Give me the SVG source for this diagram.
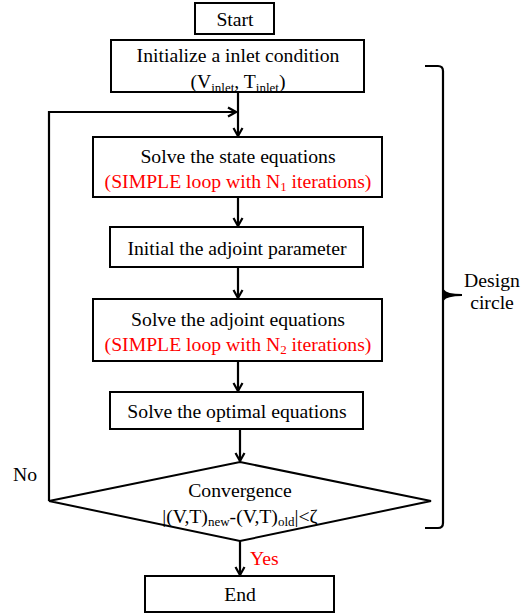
<svg xmlns="http://www.w3.org/2000/svg" width="524" height="615" viewBox="0 0 524 615">
<defs>
<style>
.box{fill:#fff;stroke:#000;stroke-width:2}
text{font-family:'Liberation Serif','Times New Roman','DejaVu Serif',serif;font-size:19.7px;fill:#000;text-anchor:middle}
.r{fill:#ff0000}
.s{font-size:13px}
.ln{fill:none;stroke:#000;stroke-width:2.2}
</style>
<marker id="ah" markerUnits="userSpaceOnUse" markerWidth="12" markerHeight="12" viewBox="0 0 12 12" refX="10" refY="6" orient="auto">
<path d="M2,1.5 L10,6 L2,10.5" fill="none" stroke="#000" stroke-width="2.2"/>
</marker>
</defs>
<rect width="524" height="615" fill="#fff"/>
<g id="connectors">
<line class="ln" x1="238" y1="92" x2="238" y2="136" marker-end="url(#ah)"/>
<polyline class="ln" points="49,501 49,112 236,112" marker-end="url(#ah)"/>
<line class="ln" x1="238" y1="197" x2="238" y2="226" marker-end="url(#ah)"/>
<line class="ln" x1="238" y1="267" x2="238" y2="298" marker-end="url(#ah)"/>
<line class="ln" x1="238" y1="361" x2="238" y2="391" marker-end="url(#ah)"/>
<line class="ln" x1="240" y1="429" x2="240" y2="461" marker-end="url(#ah)"/>
<line class="ln" x1="240" y1="541" x2="240" y2="575" marker-end="url(#ah)"/>
<text class="r" x="250" y="565" style="text-anchor:start">Yes</text>
<text x="13" y="481" style="text-anchor:start">No</text>
</g>
<g id="start">
<rect class="box" x="195" y="3" width="79" height="31"/>
<text x="235" y="26">Start</text>
</g>
<g id="init">
<rect class="box" x="111" y="40" width="253" height="52"/>
<text x="238" y="62">Initialize a inlet condition</text>
<text x="238" y="88">(V<tspan class="s" dy="4">inlet</tspan><tspan dy="-4">, T</tspan><tspan class="s" dy="4">inlet</tspan><tspan dy="-4">)</tspan></text>
</g>
<g id="state">
<rect class="box" x="93" y="137" width="289" height="60"/>
<text x="238" y="163">Solve the state equations</text>
<text class="r" x="238" y="188">(SIMPLE loop with N<tspan class="s" dy="3">1</tspan><tspan dy="-3"> iterations)</tspan></text>
</g>
<g id="adjparam">
<rect class="box" x="110" y="227" width="253" height="40"/>
<text x="237" y="255">Initial the adjoint parameter</text>
</g>
<g id="adjoint">
<rect class="box" x="93" y="299" width="289" height="62"/>
<text x="238" y="326">Solve the adjoint equations</text>
<text class="r" x="238" y="351">(SIMPLE loop with N<tspan class="s" dy="3">2</tspan><tspan dy="-3"> iterations)</tspan></text>
</g>
<g id="optimal">
<rect class="box" x="110" y="392" width="253" height="37"/>
<text x="237" y="418">Solve the optimal equations</text>
</g>
<g id="convergence">
<polygon class="box" points="240,462 431,501 240,541 49,501"/>
<text x="240" y="497">Convergence</text>
<text x="240" y="523">|(V,T)<tspan class="s" dy="3">new</tspan><tspan dy="-3">-(V,T)</tspan><tspan class="s" dy="3">old</tspan><tspan dy="-3">|&lt;ζ</tspan></text>
</g>
<g id="end">
<rect class="box" x="145" y="576" width="189" height="36"/>
<text x="240" y="601">End</text>
</g>
<g id="design-circle">
<path class="ln" d="M425,66 H438 Q443,66 443,71 V523 Q443,528 438,528 H425"/>
<path d="M443,290 Q446,295 462,295 Q446,295 443,300 Z" fill="#000" stroke="#000" stroke-width="2"/>
<text x="492" y="287">Design</text>
<text x="492" y="309">circle</text>
</g>
</svg>
